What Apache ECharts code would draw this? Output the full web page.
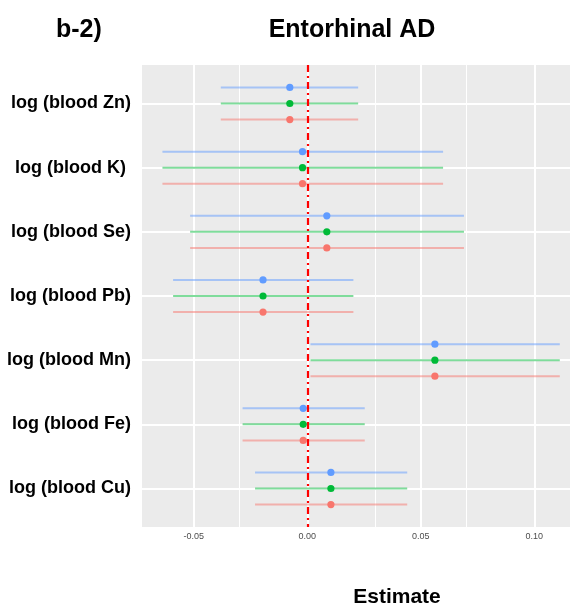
<!DOCTYPE html>
<html>
<head>
<meta charset="utf-8">
<script src="https://cdn.jsdelivr.net/npm/echarts@6/dist/echarts.min.js"></script>
<style>html,body{margin:0;padding:0;background:#fff}#c{width:570px;height:608px}</style>
</head>
<body>
<div id="c"></div>
<script>
// Categories (top to bottom)
const categories = ['log (blood Zn)', 'log (blood K) ', 'log (blood Se)', 'log (blood Pb)', 'log (blood Mn)', 'log (blood Fe)', 'log (blood Cu)'];
// Estimates and 95% CI (same for the three groups)
const estimate = [-0.0077, -0.0021, 0.0086, -0.0195, 0.0562, -0.0018, 0.0104];
const lower    = [-0.0381, -0.0638, -0.0516, -0.0591, 0.0014, -0.0285, -0.0230];
const upper    = [ 0.0224,  0.0598,  0.0690,  0.0203, 0.1112,  0.0253,  0.0440];
const groups = ['blue', 'green', 'red'];
const groupColors = ['#619CFF', '#00BA38', '#F8766D'];
const groupOffsets = [-0.25, 0, 0.25];
const xMajorTicks = [-0.05, 0, 0.05, 0.10];
const xMinorTicks = [-0.025, 0.025, 0.075];
const xLabels = ['-0.05', '0.00', '0.05', '0.10'];
const catIndex = categories.map((c, i) => i);

const series = groups.map((g, gi) => ({
  type: 'custom',
  name: g,
  z: 5,
  data: categories.map((c, i) => [estimate[i], lower[i], upper[i], i + groupOffsets[gi]]),
  renderItem: function (params, api) {
    const p = api.coord([api.value(0), api.value(3)]);
    const a = api.coord([api.value(1), api.value(3)]);
    const b = api.coord([api.value(2), api.value(3)]);
    return {
      type: 'group',
      children: [
        { type: 'line', shape: { x1: a[0], y1: a[1], x2: b[0], y2: b[1] },
          style: { stroke: groupColors[gi], lineWidth: 2, opacity: 0.5 } },
        { type: 'circle', shape: { cx: p[0], cy: p[1], r: 3.6 },
          style: { fill: groupColors[gi] } }
      ]
    };
  }
}));

// gridlines and zero reference line
series.push({
  type: 'custom',
  name: 'grid',
  silent: true,
  z: 1,
  data: [],
  renderItem: function () {},
  markLine: {
    silent: true, symbol: 'none', label: { show: false }, animation: false,
    data: [
      ...xMinorTicks.map(v => ({ xAxis: v, lineStyle: { color: '#FFFFFF', width: 1, type: 'solid' } })),
      ...xMajorTicks.map(v => ({ xAxis: v, lineStyle: { color: '#FFFFFF', width: 2, type: 'solid' } })),
      ...catIndex.map(v => ({ yAxis: v, lineStyle: { color: '#FFFFFF', width: 2, type: 'solid' } }))
    ]
  }
});
series.push({
  type: 'custom',
  name: 'zero',
  silent: true,
  z: 10,
  data: [],
  renderItem: function () {},
  markLine: {
    silent: true, symbol: 'none', label: { show: false }, animation: false, z: 10,
    data: [{ xAxis: 0 }],
    lineStyle: { color: '#FF0000', width: 2.2, type: [7, 4, 2, 4] }
  }
});

const titleFont = { fontFamily: 'Liberation Sans', fontWeight: 'bold', color: '#000' };
const chart = echarts.init(document.getElementById('c'), null, { renderer: 'canvas' });
chart.setOption({
  animation: false,
  backgroundColor: '#FFFFFF',
  title: [
    { text: 'Entorhinal AD', left: 347, top: 13, textAlign: 'center',
      textStyle: Object.assign({ fontSize: 25 }, titleFont) },
    { text: 'b-2)', left: 51, top: 13,
      textStyle: Object.assign({ fontSize: 25 }, titleFont) },
    { text: 'Estimate', left: 392, top: 582, textAlign: 'center',
      textStyle: Object.assign({ fontSize: 21 }, titleFont) }
  ],
  grid: { left: 142, right: 0, top: 65, bottom: 81, show: true, backgroundColor: '#EBEBEB', borderWidth: 0,
    containLabel: false, outerBoundsMode: 'none' },
  xAxis: {
    type: 'value', min: -0.0728, max: 0.1157,
    axisLine: { show: false },
    splitLine: { show: false },
    axisTick: { show: true, length: 3, customValues: xMajorTicks, lineStyle: { color: '#333333', width: 1 } },
    axisLabel: { customValues: xMajorTicks, margin: 5, fontFamily: 'Liberation Sans', fontSize: 9, color: '#4D4D4D',
      formatter: v => xLabels[xMajorTicks.findIndex(t => Math.abs(t - v) < 1e-9)] }
  },
  yAxis: {
    type: 'value', min: -0.6, max: 6.6, inverse: true,
    axisLine: { show: false },
    splitLine: { show: false },
    axisTick: { show: true, length: 3, customValues: catIndex, lineStyle: { color: '#333333', width: 1 } },
    axisLabel: { customValues: catIndex, margin: 11, fontFamily: 'Liberation Sans', fontWeight: 'bold', fontSize: 18, color: '#000',
      formatter: v => categories[Math.round(v)] }
  },
  series: series
});
</script>
</body>
</html>
